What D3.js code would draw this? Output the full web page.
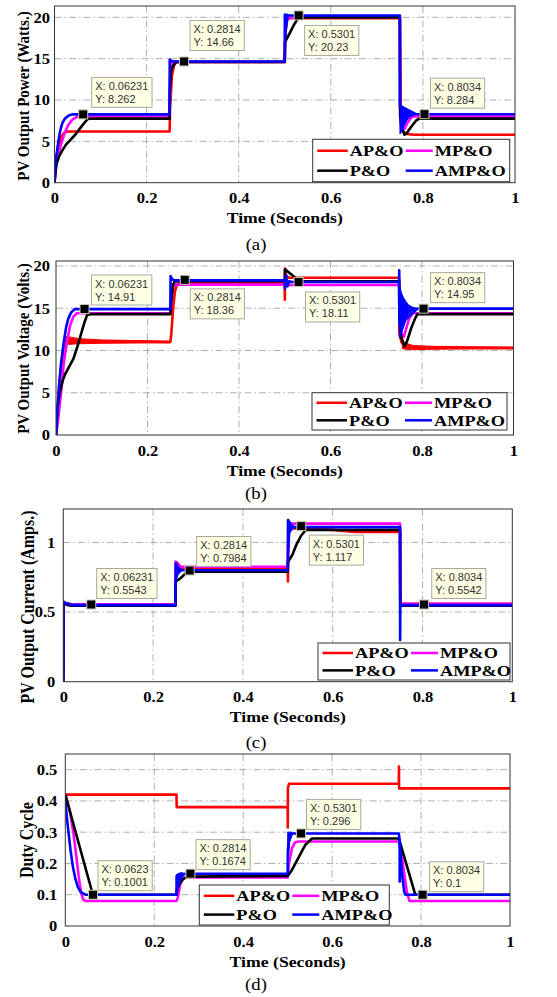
<!DOCTYPE html>
<html><head><meta charset="utf-8">
<script src="https://cdn.jsdelivr.net/npm/d3@7"></script>
<style>body{margin:0;background:#fff}svg{display:block}</style>
</head><body><svg id="c" width="557" height="997"></svg>
<script>
// ---------------- DATA ----------------
const seriesNames = ["AP&O", "MP&O", "P&O", "AMP&O"];
const seriesColors = ["#ff0000", "#ff00ff", "#000000", "#0000ff"];
const timeTicks = [0, 0.2, 0.4, 0.6, 0.8, 1];
const timeTickLabels = ["0", "0.2", "0.4", "0.6", "0.8", "1"];
const xTitle = "Time (Seconds)";

// (a) PV output power
const powerTicks = [0, 5, 10, 15, 20];
const powerAPO = [[0,0],[0.003,2.5],[0.008,4.5],[0.015,5.6],[0.022,6.1],[0.03,6.2],[0.25,6.2],[0.251,9],[0.255,13],[0.26,14.3],[0.265,14.6],[0.5,14.6],[0.501,17.5],[0.504,19.8],[0.51,19.9],[0.75,19.9],[0.752,7],[0.756,6.2],[0.765,5.9],[0.78,5.8],[1,5.8]];
const powerMPO = [[0,0],[0.004,2.5],[0.009,3.6],[0.015,4.8],[0.022,6.0],[0.03,7.0],[0.04,7.7],[0.05,8.0],[0.25,8.0],[0.2505,12],[0.253,14.4],[0.26,14.6],[0.5,14.6],[0.502,19.5],[0.51,19.95],[0.75,19.95],[0.7505,9],[0.755,6.8],[0.76,6.5],[0.767,7.3],[0.775,7.9],[0.78,8.0],[1,8.0]];
const powerPO = [[0,0],[0.004,2.2],[0.01,3.2],[0.018,4.0],[0.025,4.6],[0.035,5.2],[0.045,5.8],[0.06,6.9],[0.072,7.7],[0.08,7.75],[0.25,7.75],[0.2505,11],[0.253,13.5],[0.258,14.2],[0.265,14.6],[0.5,14.6],[0.5005,17],[0.51,18],[0.52,19.1],[0.53,20.0],[0.535,20.0],[0.75,20.0],[0.7505,8],[0.755,6.5],[0.76,5.8],[0.765,6.0],[0.775,6.8],[0.785,7.5],[0.792,7.75],[1,7.75]];
const powerAMPO = [[0,0],[0.002,2.5],[0.005,3.6],[0.009,5.2],[0.012,6.2],[0.017,7.2],[0.022,7.7],[0.03,8.1],[0.038,8.26],[0.25,8.26],[0.2502,14.9],[0.254,14.7],[0.26,14.66],[0.5,14.66],[0.5002,20.3],[0.505,20.23],[0.75,20.23],[0.7502,9.3],[0.785,8.28],[1,8.28]];
const powerBandAMPO = [[0.7502,5.9,9.5],[0.755,6.3,9.3],[0.76,7.0,9.0],[0.765,7.5,8.8],[0.77,7.9,8.6],[0.78,8.15,8.4],[0.785,8.25,8.3]];
const powerBandAMPO2 = [[0.5001,16.8,20.4],[0.504,18.5,20.4],[0.508,20.1,20.35]];
const powerTips = [["0.06231","8.262"],["0.2814","14.66"],["0.5301","20.23"],["0.8034","8.284"]];

// (b) PV output voltage
const voltageTicks = [0, 5, 10, 15, 20];
const voltageAPO = [[0,0],[0.003,3],[0.007,6],[0.012,8.5],[0.017,10.5],[0.022,11.2],[0.03,11.1],[0.25,11.0],[0.252,12],[0.256,15],[0.26,17],[0.265,17.9],[0.27,18.0],[0.5,18.0],[0.5002,16.0],[0.5008,19.7],[0.503,18.8],[0.51,18.6],[0.75,18.6],[0.7505,12],[0.755,11],[0.76,10.6],[0.77,10.4],[0.8,10.3],[1,10.3]];
const voltageBandAPO = [[0.02,10.7,11.7],[0.05,10.8,11.4],[0.1,10.85,11.25],[0.2,10.9,11.15],[0.25,10.9,11.1]];
const voltageBandAPO2 = [[0.757,10.2,11.0],[0.78,10.1,10.6],[0.82,10.15,10.5],[0.9,10.2,10.45],[1,10.2,10.4]];
const voltageMPO = [[0,0],[0.004,1.5],[0.008,3.5],[0.012,5.5],[0.017,8.5],[0.024,11],[0.031,13],[0.038,14.0],[0.045,14.4],[0.25,14.4],[0.252,16],[0.256,17.5],[0.26,17.8],[0.5,17.8],[0.502,17.6],[0.51,17.75],[0.75,17.75],[0.7505,14],[0.755,12],[0.76,11.6],[0.765,12.5],[0.772,13.8],[0.78,14.4],[1,14.4]];
const voltagePO = [[0,0],[0.003,3],[0.008,5],[0.015,6.5],[0.02,7.2],[0.03,8.2],[0.038,9],[0.047,10.5],[0.055,12],[0.062,13.3],[0.068,14.2],[0.075,14.3],[0.25,14.3],[0.252,16],[0.256,17.8],[0.26,18.2],[0.5,18.2],[0.5005,19.6],[0.53,18.3],[0.535,18.2],[0.75,18.2],[0.7505,14],[0.755,11.5],[0.762,10.5],[0.768,11.2],[0.776,12.6],[0.785,13.8],[0.79,14.3],[1,14.3]];
const voltageAMPO = [[0,0],[0.002,2],[0.005,4.5],[0.007,6],[0.011,8.5],[0.017,11],[0.022,12.7],[0.027,13.8],[0.033,14.5],[0.041,14.9],[0.25,14.9],[0.2505,18.8],[0.254,18.4],[0.26,18.3],[0.5,18.3],[0.5002,17.3],[0.503,18.9],[0.506,17.6],[0.51,18.2],[0.515,18.11],[0.75,18.11],[0.7502,19.5],[0.7508,13],[0.79,14.95],[1,14.95]];
const voltageBandAMPO = [[0.7505,11.5,17.8],[0.755,12.0,16.8],[0.76,12.8,16.2],[0.765,13.6,15.8],[0.77,14.2,15.4],[0.78,14.7,15.1],[0.79,14.9,15.0]];
const voltageTips = [["0.06231","14.91"],["0.2814","18.36"],["0.5301","18.11"],["0.8034","14.95"]];

// (c) PV output current
const currentTicks = [0, 0.5, 1];
const currentAPO = [[0,0],[0.0005,0.57],[0.005,0.565],[0.02,0.555],[0.25,0.555],[0.2505,0.86],[0.255,0.85],[0.262,0.82],[0.27,0.81],[0.5,0.81],[0.5003,0.72],[0.501,1.16],[0.505,1.1],[0.52,1.1],[0.6,1.09],[0.65,1.075],[0.75,1.075],[0.7505,0.56],[1,0.56]];
const currentMPO = [[0,0],[0.0005,0.57],[0.005,0.56],[0.02,0.555],[0.25,0.555],[0.2505,0.86],[0.256,0.84],[0.262,0.825],[0.5,0.825],[0.502,1.12],[0.51,1.135],[0.75,1.135],[0.7505,0.56],[1,0.56]];
const currentPO = [[0,0],[0.0005,0.56],[0.01,0.55],[0.02,0.545],[0.25,0.545],[0.2505,0.72],[0.26,0.74],[0.27,0.77],[0.28,0.79],[0.5,0.79],[0.5005,0.86],[0.51,0.91],[0.52,0.99],[0.53,1.05],[0.54,1.09],[0.75,1.09],[0.7505,0.545],[1,0.545]];
const currentAMPO = [[0,0],[0.0005,0.575],[0.005,0.565],[0.02,0.55],[0.25,0.55],[0.2505,0.85],[0.256,0.81],[0.265,0.8],[0.5,0.8],[0.5005,1.16],[0.508,1.12],[0.515,1.11],[0.75,1.11],[0.7502,0.3],[0.7506,0.55],[1,0.55]];
const currentBandAMPO = [[0.2502,0.72,0.86],[0.256,0.77,0.83],[0.262,0.79,0.81]];
const currentBandAMPO2 = [[0.5003,0.86,1.16],[0.505,1.07,1.15],[0.512,1.1,1.12]];
const currentTips = [["0.06231","0.5543"],["0.2814","0.7984"],["0.5301","1.117"],["0.8034","0.5542"]];

// (d) duty cycle
const dutyTicks = [0, 0.1, 0.2, 0.3, 0.4, 0.5];
const dutyAPO = [[0,0.42],[0.25,0.42],[0.2505,0.38],[0.5,0.38],[0.5003,0.315],[0.5006,0.44],[0.503,0.455],[0.75,0.455],[0.7503,0.51],[0.7506,0.44],[1,0.44]];
const dutyMPO = [[0,0.42],[0.01,0.37],[0.018,0.3],[0.025,0.22],[0.03,0.16],[0.035,0.11],[0.04,0.085],[0.045,0.08],[0.25,0.08],[0.253,0.09],[0.258,0.13],[0.262,0.15],[0.266,0.155],[0.5,0.155],[0.503,0.2],[0.51,0.25],[0.517,0.268],[0.525,0.27],[0.75,0.27],[0.755,0.24],[0.762,0.17],[0.768,0.11],[0.774,0.08],[1,0.08]];
const dutyPO = [[0,0.42],[0.062,0.1],[0.25,0.1],[0.252,0.12],[0.257,0.135],[0.265,0.15],[0.275,0.158],[0.5,0.16],[0.51,0.18],[0.525,0.22],[0.54,0.26],[0.555,0.28],[0.75,0.28],[0.787,0.1],[1,0.1]];
const dutyAMPO = [[0,0.4],[0.004,0.34],[0.008,0.29],[0.012,0.24],[0.017,0.19],[0.022,0.155],[0.028,0.125],[0.035,0.108],[0.045,0.1],[0.25,0.1],[0.2503,0.16],[0.253,0.125],[0.258,0.15],[0.265,0.165],[0.27,0.167],[0.5,0.167],[0.5005,0.24],[0.503,0.28],[0.51,0.296],[0.75,0.296],[0.752,0.27],[0.757,0.17],[0.762,0.11],[0.765,0.1],[1,0.1]];
const dutyBandAMPO = [[0.2502,0.11,0.165],[0.258,0.14,0.17],[0.265,0.163,0.17]];
const dutyBandAMPO2 = [[0.5002,0.2,0.3],[0.505,0.27,0.3],[0.51,0.29,0.3]];
const dutyBandAMPO3 = [[0.7502,0.14,0.296],[0.754,0.14,0.26]];
const dutyTips = [["0.0623","0.1001"],["0.2814","0.1674"],["0.5301","0.296"],["0.8034","0.1"]];

// ---------------- LAYOUT ----------------
const panels = [
  {box:[54.5,515,6,182.7], yMax:21.37, ticks:powerTicks, tickGap:4.5, yLabel:"PV Output Power (Watts.)", yLabelPos:[23,96], yLabelSize:15,
   lines:[powerAPO,powerMPO,powerPO,powerAMPO], bands:[[3,powerBandAMPO],[3,powerBandAMPO2]], tips:powerTips,
   tipOff:[[8.5,-37],[6,-41],[6,10],[6,-36]], legend:[312.7,139.3,197,42.4], caption:"(a)", capY:249.5},
  {box:[56,513.5,261,435], yMax:20.59, ticks:voltageTicks, tickGap:6, yLabel:"PV Output Voltage (Volts.)", yLabelPos:[23,348.5], yLabelSize:15,
   lines:[voltageAPO,voltageMPO,voltagePO,voltageAMPO], bands:[[0,voltageBandAPO],[0,voltageBandAPO2],[3,voltageBandAMPO]], tips:voltageTips,
   tipOff:[[7,-34],[5.5,9],[7,10],[7,-36]], legend:[312,392.7,195,37.3], caption:"(b)", capY:499},
  {box:[63.3,512.3,509,681.7], yMax:1.24, ticks:currentTicks, tickGap:8, yLabel:"PV Output Current (Amps.)", yLabelPos:[27,607], yLabelSize:16,
   lines:[currentAPO,currentMPO,currentPO,currentAMPO], bands:[[3,currentBandAMPO],[3,currentBandAMPO2]], tips:currentTips,
   tipOff:[[5.4,-36],[7,-34],[8,9],[7.7,-36]], legend:[318,643,192,37], caption:"(c)", capY:748},
  {box:[65.3,510,754,926], yMax:0.55, ticks:dutyTicks, tickGap:8, yLabel:"Duty Cycle", yLabelPos:[26,840], yLabelSize:16,
   lines:[dutyAPO,dutyMPO,dutyPO,dutyAMPO], bands:[[3,dutyBandAMPO],[3,dutyBandAMPO2],[3,dutyBandAMPO3]], tips:dutyTips,
   tipOff:[[5,-34],[5.5,-34],[5.5,-34],[7,-33]], legend:[199.3,885,190,40], caption:"(d)", capY:990}
];

const SX = 1.18;
const SERIF = "'Liberation Serif','Times New Roman',serif";
const SANS = "'Liberation Sans',Arial,sans-serif";
const svg = d3.select("#c");

function txt(g, x, y, s, o = {}) {
  const tf = o.rot ? `translate(${x},${y}) rotate(-90) scale(1,${SX})` : `translate(${x},${y}) scale(${o.sx || SX},1)`;
  return g.append("text").attr("transform", tf)
    .attr("text-anchor", o.anchor || "start")
    .attr("dy", o.dy || 0)
    .attr("font-family", o.family || SERIF)
    .attr("font-weight", o.weight || "bold")
    .attr("font-size", o.size || 13)
    .attr("fill", o.fill || "#000")
    .text(s);
}

panels.forEach((p, pi) => {
  const [L, R, T, B] = p.box;
  const x = d3.scaleLinear().domain([0, 1]).range([L, R]);
  const y = d3.scaleLinear().domain([0, p.yMax]).range([B, T]);
  const g = svg.append("g");
  const clipId = "clip" + pi;
  g.append("clipPath").attr("id", clipId).append("rect").attr("x", L).attr("y", T).attr("width", R - L).attr("height", B - T);

  g.append("rect").attr("x", L).attr("y", T).attr("width", R - L).attr("height", B - T).attr("fill", "#fff");

  // grid
  const grid = g.append("g").attr("stroke", "#9a9a9a").attr("stroke-width", 0.8).attr("stroke-dasharray", "7,3,1.5,3");
  timeTicks.forEach(t => { if (t > 0 && t < 1) grid.append("line").attr("x1", x(t)).attr("x2", x(t)).attr("y1", T).attr("y2", B); });
  p.ticks.forEach(v => { if (v > 0) grid.append("line").attr("x1", L).attr("x2", R).attr("y1", y(v)).attr("y2", y(v)); });

  // axes with d3
  const xAxis = d3.axisBottom(x).tickValues(timeTicks).tickSize(0).tickPadding(0).tickFormat((d, i) => timeTickLabels[i]);
  const yAxis = d3.axisLeft(y).tickValues(p.ticks).tickSize(0).tickFormat(d3.format("~g"));
  const xa = g.append("g").attr("transform", `translate(0,${B})`).call(xAxis);
  xa.select(".domain").remove();
  xa.selectAll("text").remove();
  xa.selectAll(".tick").each(function (d, i) {
    txt(d3.select(this), 0, 20.5, timeTickLabels[i], { anchor: "middle", size: 14 });
  });
  const ya = g.append("g").attr("transform", `translate(${L},0)`).call(yAxis);
  ya.select(".domain").remove();
  ya.selectAll(".tick").each(function (d) {
    const s = d3.select(this).select("text").text();
    d3.select(this).select("text").remove();
    txt(d3.select(this), -p.tickGap, 0, s, { anchor: "end", size: 14, dy: "0.35em" });
  });

  // data
  const plot = g.append("g").attr("clip-path", `url(#${clipId})`);
  const area = d3.area().x(d => x(d[0])).y0(d => y(d[1])).y1(d => y(d[2]));
  const line = d3.line().x(d => x(d[0])).y(d => y(d[1]));
  p.lines.forEach((data, si) => {
    p.bands.filter(b => b[0] === si).forEach(b => {
      plot.append("path").attr("d", area(b[1])).attr("fill", seriesColors[si]).attr("stroke", seriesColors[si]).attr("stroke-width", 1);
    });
    plot.append("path").attr("d", line(data)).attr("fill", "none").attr("stroke", seriesColors[si])
      .attr("stroke-width", 2.6).attr("stroke-linejoin", "round");
  });

  // frame
  g.append("rect").attr("x", L).attr("y", T).attr("width", R - L).attr("height", B - T)
    .attr("fill", "none").attr("stroke", "#333").attr("stroke-width", 1);

  // titles
  txt(g, (L + R) / 2, B + 40.5, xTitle, { anchor: "middle", size: 15 });
  txt(g, p.yLabelPos[0], p.yLabelPos[1], p.yLabel, { anchor: "middle", size: p.yLabelSize, rot: true, dy: "0.35em" });
  txt(g, 256, p.capY, p.caption, { anchor: "middle", size: 17, weight: "normal", sx: 1.1 });

  // datatips
  p.tips.forEach((tp, i) => {
    const mx = x(+tp[0]), my = y(+tp[1]);
    const [dx, dy] = p.tipOff[i];
    const tg = g.append("g");
    const bx = mx + dx, by = my + dy;
    const rect = tg.append("rect").attr("x", bx).attr("y", by).attr("height", 30)
      .attr("fill", "#ffffe3").attr("stroke", "#a8a8a0").attr("stroke-width", 1);
    const t1 = txt(tg, bx + 3.5, by + 12.5, "X: " + tp[0], { family: SANS, weight: "normal", size: 10, fill: "#333", sx: 1.1 });
    const t2 = txt(tg, bx + 3.5, by + 25.5, "Y: " + tp[1], { family: SANS, weight: "normal", size: 10, fill: "#333", sx: 1.1 });
    const w = Math.max(t1.node().getBBox().width, t2.node().getBBox().width) * 1.1 + 7;
    rect.attr("width", w);
    g.append("rect").attr("x", mx - 4.5).attr("y", my - 4.5).attr("width", 9).attr("height", 9)
      .attr("fill", "#000").attr("stroke", "#c8c8b0").attr("stroke-width", 1);
  });

  // legend
  const [lx, ly, lw, lh] = p.legend;
  const lg = g.append("g");
  lg.append("rect").attr("x", lx).attr("y", ly).attr("width", lw).attr("height", lh)
    .attr("fill", "#fff").attr("stroke", "#333").attr("stroke-width", 1);
  seriesNames.forEach((nm, si) => {
    const col = si % 2, row = Math.floor(si / 2);
    const cx = lx + (col === 0 ? 4.5 : 93);
    const cy = ly + lh * (row === 0 ? 0.27 : 0.74);
    lg.append("line").attr("x1", cx).attr("x2", cx + (col === 0 ? 30.5 : 27)).attr("y1", cy).attr("y2", cy)
      .attr("stroke", seriesColors[si]).attr("stroke-width", 2.5);
    txt(lg, cx + (col === 0 ? 32.5 : 29), cy, nm, { size: 15.5, dy: "0.35em" });
  });
});
</script>
</body></html>
